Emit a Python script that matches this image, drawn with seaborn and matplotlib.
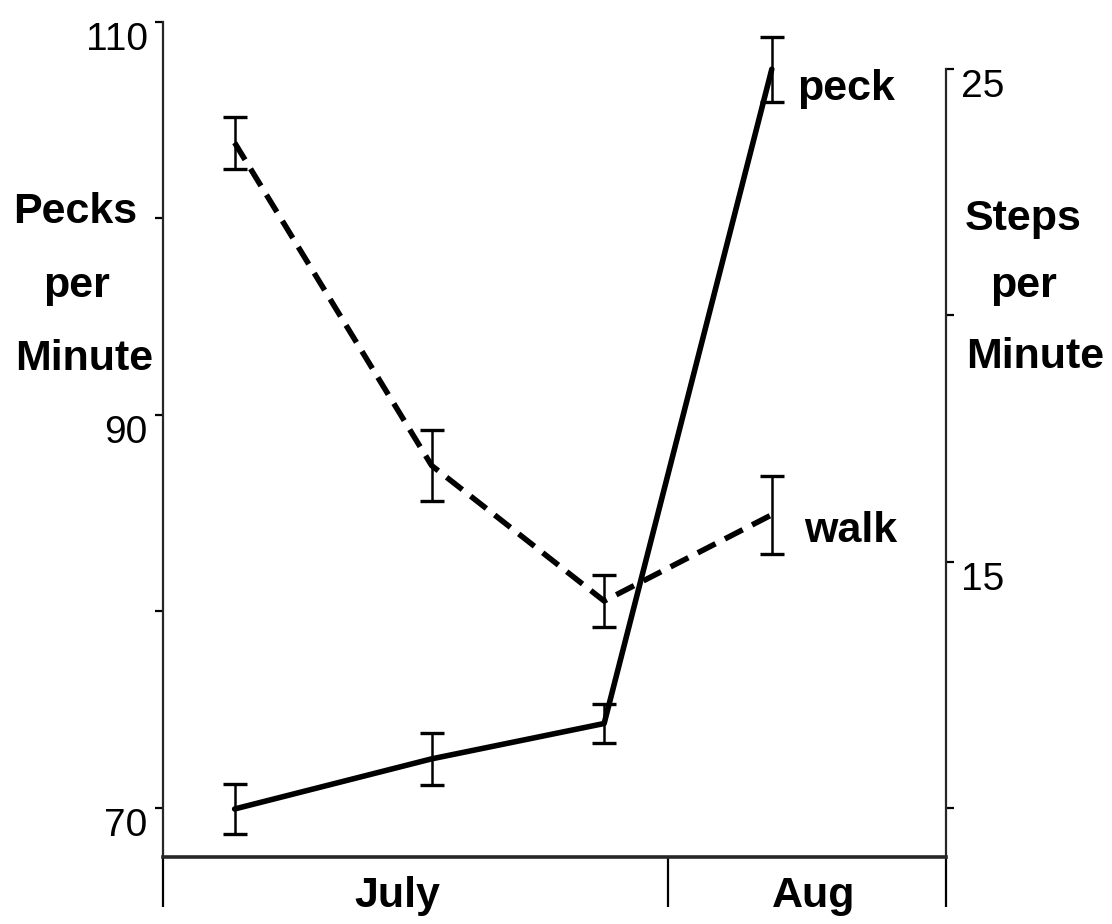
import matplotlib
matplotlib.use("Agg")
import matplotlib.pyplot as plt
import seaborn as sns
import pandas as pd

# ---- data ----
sample_day = [4.4, 16.5, 27.1, 37.4]          # days since 1 July
pecks_per_min = [69.95, 72.5, 74.3, 107.6]
pecks_err = [1.27, 1.32, 1.0, 1.65]
steps_per_min = [23.5, 16.95, 14.2, 15.95]
steps_err = [0.53, 0.73, 0.53, 0.79]
month_edges = [0, 31, 48.1]
month_names = ["July", "Aug"]
left_ticks = [70, 80, 90, 100, 110]
left_labels = ["70", "", "90", "", "110"]
right_ticks = [10, 15, 20, 25]
right_labels = ["", "15", "", "25"]

sns.set_theme(style="ticks")
plt.rcParams["font.family"] = ["Liberation Sans", "DejaVu Sans"]

W, H = 1112, 924
fig = plt.figure(figsize=(W / 100, H / 100), dpi=100)
fig.patch.set_facecolor("white")


def fx(px):
    return px / W


def fy(py):
    return 1 - py / H


ax = fig.add_axes([fx(163), fy(857), (946 - 163) / W, (857 - 20) / H])
ax.set_facecolor("white")
ax2 = ax.twinx()

df_peck = pd.DataFrame({"day": sample_day, "rate": pecks_per_min})
df_walk = pd.DataFrame({"day": sample_day, "rate": steps_per_min})

sns.lineplot(data=df_peck, x="day", y="rate", ax=ax, color="black",
             linewidth=4.0, solid_capstyle="round", zorder=3)
ax.errorbar(sample_day, pecks_per_min, yerr=pecks_err, fmt="none",
            ecolor="black", elinewidth=1.8, capsize=8.5, capthick=2.4, zorder=4)

sns.lineplot(data=df_walk, x="day", y="rate", ax=ax2, color="black",
             linewidth=4.0, linestyle=(0, (3.6, 1.9)), zorder=3)
ax2.errorbar(sample_day, steps_per_min, yerr=steps_err, fmt="none",
             ecolor="black", elinewidth=1.8, capsize=8.5, capthick=2.4, zorder=4)

ax.set_xlim(0, 48.1)
ax.set_ylim(67.506, 110.10)
ax2.set_ylim(9.005, 25.99)
for a in (ax, ax2):
    a.set_xlabel("")
    a.set_ylabel("")
    a.grid(False)

# spines
ax.spines["top"].set_visible(False)
ax.spines["right"].set_visible(False)
ax.spines["left"].set_linewidth(1.6)
ax.spines["left"].set_bounds(67.506, 110)
ax.spines["bottom"].set_linewidth(2.6)
for s in ("top", "left", "bottom"):
    ax2.spines[s].set_visible(False)
ax2.spines["right"].set_linewidth(1.6)
ax2.spines["right"].set_bounds(9.005, 25)

# x ticks: month boundaries
ax.set_xticks(month_edges, labels=[""] * len(month_edges))
ax.tick_params(axis="x", direction="out", length=36, width=1.6, colors="black")

# y ticks
ax.set_yticks(left_ticks, labels=left_labels)
ax.tick_params(axis="y", direction="out", length=6, width=1.6, pad=5,
               labelsize=28, colors="black")
ax2.set_yticks(right_ticks, labels=right_labels)
ax2.tick_params(axis="y", direction="out", length=6, width=1.6, pad=5,
                labelsize=28, colors="black")
for t in ax.yaxis.get_major_ticks() + ax2.yaxis.get_major_ticks():
    t.label1.set_verticalalignment("top")
    t.label2.set_verticalalignment("top")

# axis titles
bold = dict(fontsize=31, fontweight="bold", color="black")
fig.text(fx(75), fy(223), "Pecks", ha="center", va="baseline", **bold)
fig.text(fx(77), fy(297), "per", ha="center", va="baseline", **bold)
fig.text(fx(84), fy(370), "Minute", ha="center", va="baseline", **bold)
fig.text(fx(1023), fy(230), "Steps", ha="center", va="baseline", **bold)
fig.text(fx(1024), fy(297), "per", ha="center", va="baseline", **bold)
fig.text(fx(1035), fy(368), "Minute", ha="center", va="baseline", **bold)

# series labels
fig.text(fx(797), fy(100), "peck", ha="left", va="baseline", **bold)
fig.text(fx(804), fy(542), "walk", ha="left", va="baseline", **bold)

# month labels
fig.text(fx(397), fy(907), month_names[0], ha="center", va="baseline", **bold)
fig.text(fx(814), fy(907), month_names[1], ha="center", va="baseline", **bold)

fig.savefig("out.png", dpi=100, facecolor="white")
